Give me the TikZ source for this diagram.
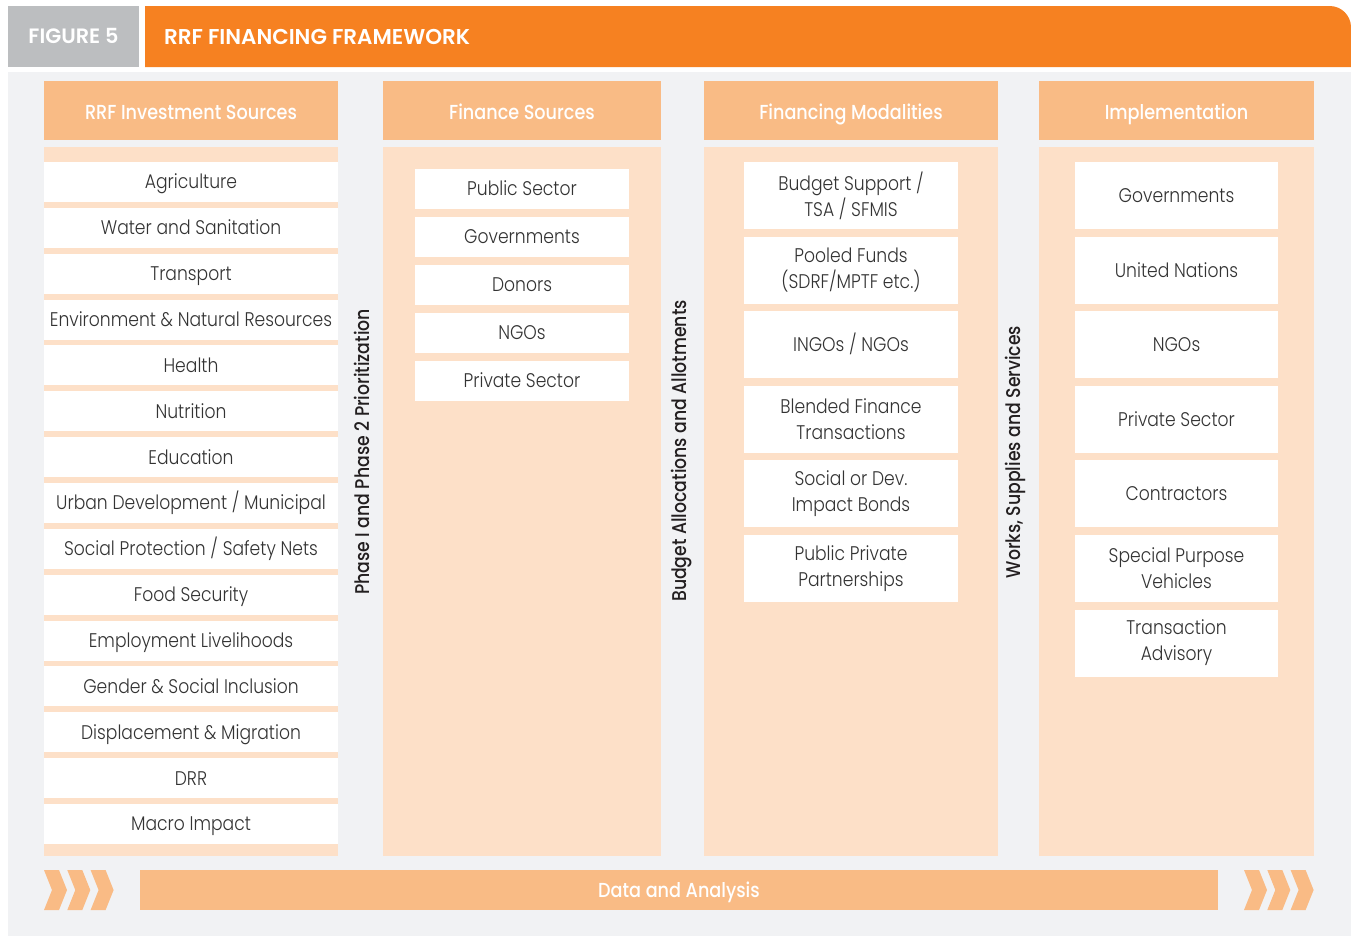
\documentclass[tikz,border=0pt]{standalone}
\usepackage{fontspec}
\setmainfont{Poppins Light}[FakeStretch=0.87]
\newfontfamily\medfont{Poppins Medium}[FakeStretch=0.87]
\newfontfamily\titlefont{Poppins SemiBold}
\definecolor{bgc}{HTML}{F1F2F4}
\definecolor{orng}{HTML}{F68121}
\definecolor{figgray}{HTML}{BCBEC0}
\definecolor{hdrc}{HTML}{F9BB85}
\definecolor{bodyc}{HTML}{FDE0C8}
\definecolor{txt}{HTML}{333333}
\definecolor{vtxt}{HTML}{231F20}
\begin{document}
\begin{tikzpicture}[x=0.75pt,y=-0.75pt,
  every node/.style={inner sep=0pt, outer sep=0pt, align=center},
  oneline/.style={text height=10.4pt, text depth=0pt},
  hdr/.style={fill=hdrc, text=white, anchor=north west, font=\medfont\fontsize{15.2}{17}\selectfont, minimum height=59*0.75pt, text height=12.8pt, text depth=0pt},
  colbody/.style={fill=bodyc, anchor=north west, minimum height=709*0.75pt},
  itembox/.style={fill=white, text=txt, anchor=north west, font=\fontsize{14.8}{19.5}\selectfont},
  itemA/.style={itembox, oneline, minimum width=294*0.75pt, minimum height=40*0.75pt},
  itemB/.style={itembox, oneline, minimum width=214*0.75pt, minimum height=40*0.75pt},
  itemC/.style={itembox, minimum width=214*0.75pt, minimum height=67*0.75pt},
  itemD/.style={itembox, minimum width=203*0.75pt, minimum height=67*0.75pt},
  vlabel/.style={rotate=90, text=vtxt, font=\medfont\fontsize{14.9}{16}\selectfont},
  chev/.style={fill=hdrc}
]
\useasboundingbox (0,0) rectangle (1351,936);
\fill[white] (0,0) rectangle (1351,936);
% background
\fill[bgc] (8,72) rectangle (1351,936);
% title
\node[fill=figgray, text=white, anchor=north west, minimum width=131*0.75pt, minimum height=61*0.75pt, text height=11.2pt, text depth=0pt, font=\titlefont\fontsize{15.6}{17}\selectfont] (fig) at (8,6) {FIGURE 5};
\fill[orng] (145,67) -- (145,6) [rounded corners=16pt] -- (1351,6) [sharp corners] -- (1351,67) -- cycle;
\node[text=white, anchor=west, text height=11.2pt, text depth=0pt, font=\titlefont\fontsize{16.1}{17}\selectfont] (title) at (164,37.5) {RRF FINANCING FRAMEWORK};

% headers
\node[hdr, minimum width=294*0.75pt] (h1) at (44,81) {RRF Investment Sources};
\node[hdr, minimum width=278*0.75pt] (h2) at (383,81) {Finance Sources};
\node[hdr, minimum width=294*0.75pt] (h3) at (704,81) {Financing Modalities};
\node[hdr, minimum width=275*0.75pt] (h4) at (1039,81) {Implementation};

% bodies
\node[colbody, minimum width=294*0.75pt] (b1) at (44,147) {};
\node[colbody, minimum width=278*0.75pt] (b2) at (383,147) {};
\node[colbody, minimum width=294*0.75pt] (b3) at (704,147) {};
\node[colbody, minimum width=275*0.75pt] (b4) at (1039,147) {};

% column 1
\foreach \t [count=\i from 0] in {Agriculture, Water and Sanitation, Transport, Environment \& Natural Resources, Health, Nutrition, Education, Urban Development / Municipal, Social Protection / Safety Nets, Food Security, Employment Livelihoods, Gender \& Social Inclusion, Displacement \& Migration, DRR, Macro Impact}
  \node[itemA] (a\i) at (44,162+45.86*\i) {\t};

% column 2
\foreach \t [count=\i from 0] in {Public Sector, Governments, Donors, NGOs, Private Sector}
  \node[itemB] (f\i) at (415,169+48*\i) {\t};

% column 3
\foreach \t/\s [count=\i from 0] in {{Budget Support /\\TSA / SFMIS}/{}, {Pooled Funds\\(SDRF/MPTF etc.)}/{}, {INGOs / NGOs}/oneline, {Blended Finance\\Transactions}/{}, {Social or Dev.\\Impact Bonds}/{}, {Public Private\\Partnerships}/{}}
  \node[itemC, \s] (m\i) at (744,162+74.6*\i) {\t};

% column 4
\foreach \t/\s [count=\i from 0] in {Governments/oneline, United Nations/oneline, NGOs/oneline, Private Sector/oneline, Contractors/oneline, {Special Purpose\\Vehicles}/{}, {Transaction\\Advisory}/{}}
  \node[itemD, \s] (p\i) at (1075,162+74.6*\i) {\t};

% vertical labels
\node[vlabel] (v1) at (362,452) {Phase I and Phase 2 Prioritization};
\node[vlabel] (v2) at (682,451) {Budget Allocations and Allotments};
\node[vlabel] (v3) at (1015,452) {Works, Supplies and Services};

% bottom bar
\node[fill=hdrc, text=white, anchor=north west, minimum width=1078*0.75pt, minimum height=40*0.75pt, text height=10.6pt, text depth=0pt, font=\medfont\fontsize{15.2}{17}\selectfont] (data) at (140,870) {Data and Analysis};
\foreach \x in {44,67.3,90.6,1244,1267.3,1290.6}
  \fill[chev] (\x,870) -- (\x+15,870) -- (\x+23,890) -- (\x+15,910) -- (\x,910) -- (\x+8,890) -- cycle;
\end{tikzpicture}
\end{document}
